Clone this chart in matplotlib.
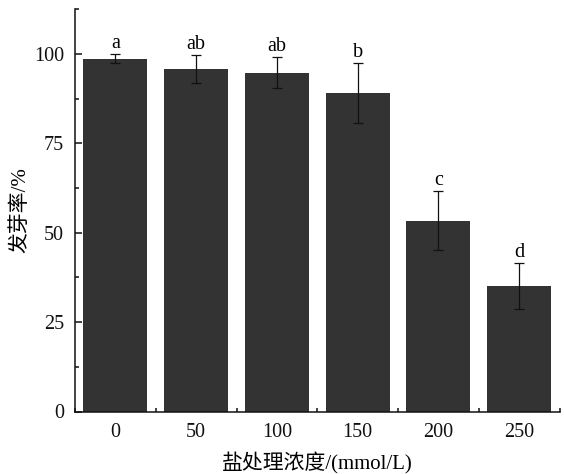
import matplotlib
matplotlib.use("Agg")
import matplotlib.pyplot as plt
from matplotlib.ticker import MultipleLocator

categories = ["0", "50", "100", "150", "200", "250"]
values = [98.7, 95.8, 94.8, 89.0, 53.4, 35.1]
errors = [1.3, 3.8, 4.3, 8.4, 8.2, 6.3]
letters = ["a", "ab", "ab", "b", "c", "d"]

plt.rcParams['font.family'] = ['Liberation Serif', 'Noto Sans CJK SC']

W, H = 564, 474
fig = plt.figure(figsize=(W / 100, H / 100), dpi=100)
left, right, bottom, top = 75, 559.5, 411.5, 9.3
ax = fig.add_axes([left / W, (H - bottom) / H, (right - left) / W, (bottom - top) / H])

x = list(range(len(categories)))
ax.bar(x, values, width=0.79, color="#333333", edgecolor="none", zorder=2)
ax.errorbar(x, values, yerr=errors, fmt="none", ecolor="#111111", elinewidth=0.9,
            capsize=3.5, capthick=0.9, zorder=3)
for xi, v, e, t in zip(x, values, errors, letters):
    ax.annotate(t, (xi, v + e), xytext=(0, 1.0), textcoords="offset points",
                ha="center", va="bottom", fontsize=14.5)

ax.set_xlim(-0.5, 5.5)
ax.set_ylim(0, 112.5)
ax.set_xticks(x)
ax.set_xticklabels(categories)
ax.xaxis.set_minor_locator(MultipleLocator(0.5))
ax.set_yticks([0, 25, 50, 75, 100])
ax.yaxis.set_minor_locator(MultipleLocator(12.5))

for s in ["top", "right"]:
    ax.spines[s].set_visible(False)
for s in ["left", "bottom"]:
    ax.spines[s].set_linewidth(1.1)
    ax.spines[s].set_color("#111111")

ax.tick_params(axis="both", which="major", direction="in", length=5, width=1.1,
               labelsize=14.5, colors="#111111")
ax.tick_params(axis="both", which="minor", direction="in", length=3, width=1.1,
               colors="#111111")
ax.tick_params(axis="x", which="major", pad=8)
ax.tick_params(axis="y", which="major", pad=8)

ax.set_xlabel("盐处理浓度/(mmol/L)", fontsize=15, va="center")
ax.set_ylabel("发芽率/%", fontsize=15, va="center")
ax.xaxis.set_label_coords(0.5, (bottom - 463) / (bottom - top))
ax.yaxis.set_label_coords((21 - left) / (right - left), 0.5)

fig.savefig("out.png", dpi=100)
